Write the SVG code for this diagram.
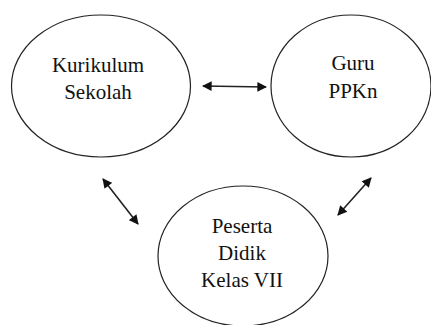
<svg xmlns="http://www.w3.org/2000/svg" width="431" height="325" viewBox="0 0 431 325">
<style>
.node ellipse{fill:#fff;stroke:#222;stroke-width:1.2}
.node text{font-family:"Liberation Serif","Times New Roman",serif;font-size:21px;fill:#111;text-anchor:middle}
.conn line{stroke:#222;stroke-width:1.6;marker-start:url(#ah);marker-end:url(#ah)}
</style>
<defs>
<marker id="ah" viewBox="0 0 10 10" refX="9" refY="5" markerWidth="6.5" markerHeight="6" orient="auto-start-reverse" markerUnits="strokeWidth">
<path d="M0,0 L10,5 L0,10 Z" fill="#111"/>
</marker>
</defs>
<rect width="431" height="325" fill="#fff"/>
<g id="kurikulum" class="node">
<ellipse cx="101" cy="86" rx="89.5" ry="71"/>
<text x="98" y="72">Kurikulum</text>
<text x="98" y="99">Sekolah</text>
</g>
<g id="guru" class="node">
<ellipse cx="351" cy="86" rx="80" ry="71"/>
<text x="353" y="70">Guru</text>
<text x="353" y="98">PPKn</text>
</g>
<g id="peserta" class="node">
<ellipse cx="243" cy="256" rx="85" ry="70"/>
<text x="242" y="233">Peserta</text>
<text x="242" y="260">Didik</text>
<text x="242" y="287">Kelas VII</text>
</g>
<g id="connectors" class="conn">
<line x1="203" y1="86" x2="266" y2="87"/>
<line x1="103" y1="179" x2="138" y2="224"/>
<line x1="371" y1="178" x2="338" y2="215"/>
</g>
</svg>
